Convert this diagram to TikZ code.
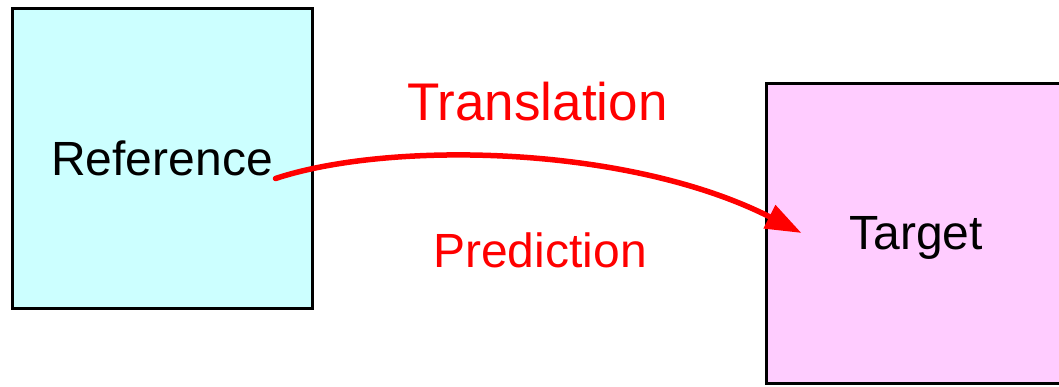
\documentclass[tikz,border=0pt]{standalone}
\usepackage{fontspec}
\setmainfont{Liberation Sans}
\usetikzlibrary{arrows.meta}

\definecolor{refcyan}{RGB}{204,255,255}
\definecolor{tgtpink}{RGB}{255,204,255}

\begin{document}
\begin{tikzpicture}[x=1pt,y=-1pt,
        box/.style={draw,line width=3pt,minimum width=300pt,minimum height=300pt,
            inner sep=0pt,text depth=0pt,font=\fontsize{48}{52}\selectfont},
        lbl/.style={text=red,anchor=base,inner sep=0pt}]
    \useasboundingbox (0,0) rectangle (1059,386);

    \node[box,fill=refcyan] (ref) at (162,158.5) {Reference};
    \node[box,fill=tgtpink] (tgt) at (916,233) {Target};

    \node[lbl,font=\fontsize{53}{58}\selectfont] (trans) at (537.5,120) {Translation};
    \node[lbl,font=\fontsize{48}{52}\selectfont] (pred) at (540,267) {Prediction};

    % curved arrow between the two boxes
    \coordinate (src) at ([shift={(-38,20)}]ref.east);
    \coordinate (dst) at ([shift={(37,0)}]tgt.west);
    \draw[red,line width=5.5pt,line cap=round,-{Triangle[length=36pt,width=25pt]}]
        (src) .. controls +(115,-38) and +(-173,-88) .. (dst);
\end{tikzpicture}
\end{document}
